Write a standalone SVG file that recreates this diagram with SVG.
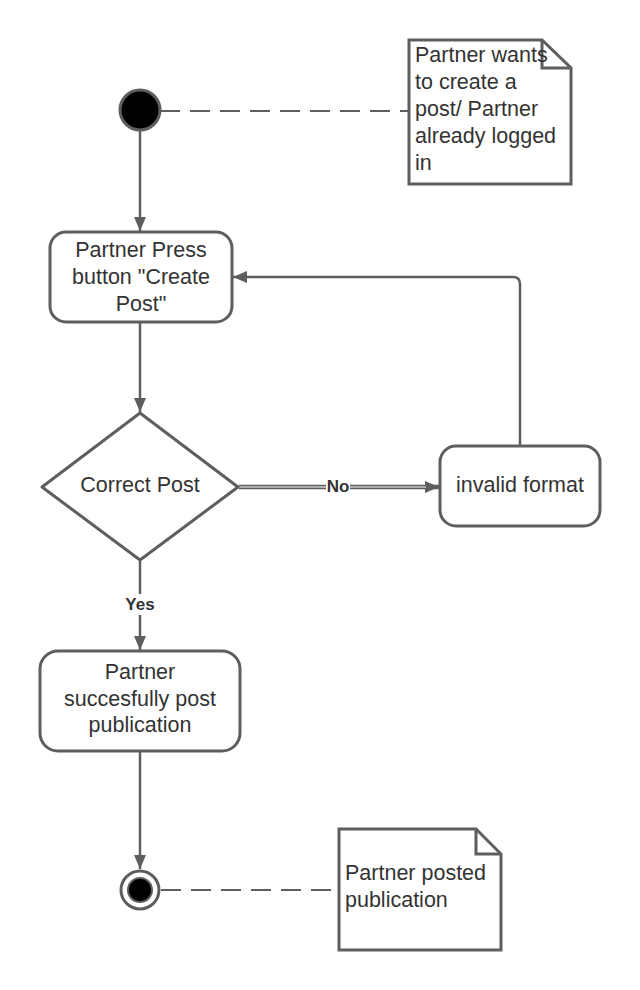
<svg xmlns="http://www.w3.org/2000/svg" width="640" height="990" viewBox="0 0 640 990">
<style>
.s{fill:#fff;stroke:#5e5e5e;stroke-width:3}
.t{font-family:"Liberation Sans",Arial,sans-serif;font-size:21.5px;fill:#333}
.c{text-anchor:middle}
.e{fill:none;stroke:#5e5e5e;stroke-width:2.5}
.d{fill:none;stroke:#5e5e5e;stroke-width:2;stroke-dasharray:20 10}
.l{font-family:"Liberation Sans",Arial,sans-serif;font-size:17px;font-weight:bold;fill:#333;text-anchor:middle}
</style>
<defs>
<marker id="a" viewBox="0 0 14 12" refX="14" refY="6" markerWidth="14" markerHeight="12" markerUnits="userSpaceOnUse" orient="auto">
<path d="M0,0 L14,6 L0,12 Z" fill="#5e5e5e"/>
</marker>
</defs>
<g id="connectors">
<line class="d" x1="160" y1="111" x2="409" y2="111"/>
<line class="e" x1="140" y1="131" x2="140" y2="231" marker-end="url(#a)"/>
<line class="e" x1="140" y1="323" x2="140" y2="412" marker-end="url(#a)"/>
<line x1="239" y1="487" x2="439" y2="487" stroke="#5e5e5e" stroke-width="4.5" marker-end="url(#a)"/>
<line x1="239" y1="487" x2="426" y2="487" stroke="#fff" stroke-width="1"/>
<rect x="326" y="478" width="24" height="17" fill="#fff"/>
<text class="l" x="338" y="492">No</text>
<path class="e" d="M520,445 V284 Q520,277 513,277 H233" marker-end="url(#a)"/>
<line class="e" x1="140" y1="561" x2="140" y2="594"/>
<line class="e" x1="140" y1="615" x2="140" y2="650" marker-end="url(#a)"/>
<text class="l" x="140" y="610">Yes</text>
<line class="e" x1="140" y1="752" x2="140" y2="869" marker-end="url(#a)"/>
<line class="d" x1="161" y1="890" x2="339" y2="890"/>
</g>
<g id="start">
<circle cx="140" cy="110" r="20" fill="#000" stroke="#5e5e5e" stroke-width="3"/>
</g>
<g id="note1">
<path class="s" d="M409,40 H542 L571,68 V184 H409 Z"/>
<path d="M542,40 V68 H571" fill="none" stroke="#5e5e5e" stroke-width="3"/>
<text class="t" x="415" y="62">Partner wants</text>
<text class="t" x="415" y="89">to create a</text>
<text class="t" x="415" y="116">post/ Partner</text>
<text class="t" x="415" y="143">already logged</text>
<text class="t" x="415" y="170">in</text>
</g>
<g id="press">
<rect class="s" x="50" y="232" width="182" height="90" rx="16"/>
<text class="t c" x="141" y="257">Partner Press</text>
<text class="t c" x="141" y="284">button "Create</text>
<text class="t c" x="141" y="311">Post"</text>
</g>
<g id="decision">
<path class="s" d="M140,413 L238,487 L140,560 L42,487 Z" stroke-linejoin="round"/>
<text class="t c" x="140" y="492">Correct Post</text>
</g>
<g id="invalid">
<rect class="s" x="440" y="446" width="160" height="80" rx="16"/>
<text class="t c" x="520" y="492">invalid format</text>
</g>
<g id="success">
<rect class="s" x="40" y="651" width="200" height="100" rx="18"/>
<text class="t c" x="140" y="679">Partner</text>
<text class="t c" x="140" y="706">succesfully post</text>
<text class="t c" x="140" y="732">publication</text>
</g>
<g id="end">
<circle cx="140" cy="890" r="19" fill="#fff" stroke="#5e5e5e" stroke-width="3"/>
<circle cx="140" cy="890" r="12" fill="#000" stroke="#5e5e5e" stroke-width="2"/>
</g>
<g id="note2">
<path class="s" d="M339,829 H476 L501,854 V950 H339 Z"/>
<path d="M476,829 V854 H501" fill="none" stroke="#5e5e5e" stroke-width="3"/>
<text class="t" x="345" y="880">Partner posted</text>
<text class="t" x="345" y="907">publication</text>
</g>
</svg>
